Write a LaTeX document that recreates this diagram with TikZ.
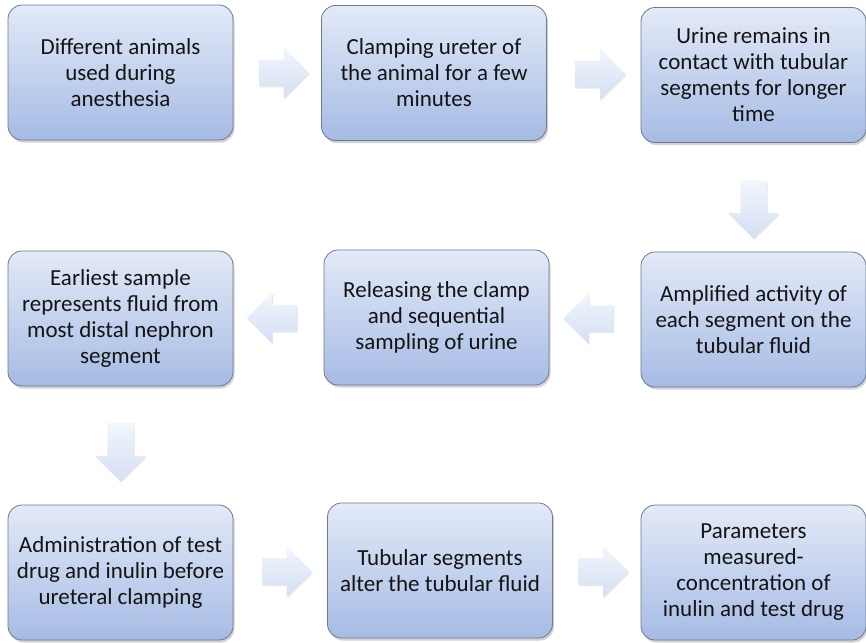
\documentclass[tikz,border=0pt]{standalone}
\usepackage{fontspec}
\setmainfont{Carlito}
\usepackage{xcolor}
\usepackage{tikz}
\usetikzlibrary{shapes.arrows,shadows,calc}
\definecolor{boxtop}{RGB}{227,234,248}
\definecolor{boxbottom}{RGB}{166,187,228}
\definecolor{boxline}{RGB}{110,121,140}
\definecolor{arrowtop}{RGB}{242,246,253}
\definecolor{arrowbottom}{RGB}{212,223,243}
\definecolor{textgray}{RGB}{20,20,20}

\begin{document}
\begin{tikzpicture}[x=1pt,y=-1pt,
    stepbox/.style={draw=boxline, line width=0.8pt, rounded corners=14pt,
        top color=boxtop, bottom color=boxbottom,
        minimum width=225pt, minimum height=135pt, inner sep=0pt,
        align=center, text=textgray, font=\fontsize{23}{26}\selectfont,
        drop shadow={shadow xshift=1.5pt, shadow yshift=-2.5pt, opacity=0.35}},
    blockarrow/.style={single arrow, single arrow head extend=12pt,
        minimum height=50pt, minimum width=50pt, inner sep=13pt,
        top color=arrowtop, bottom color=arrowbottom, draw=none,
        drop shadow={shadow xshift=1pt, shadow yshift=-1.5pt, opacity=0.2}},
    downarrow/.style={blockarrow, shape border rotate=270, minimum height=58pt}]
        \useasboundingbox (0,0) rectangle (866,642);

        % first row
        \node[stepbox] (animals) at (120.5,72.5) {Different animals\\used during\\anesthesia};
        \node[stepbox] (clamp) at (434,73) {Clamping ureter of\\the animal for a few\\minutes};
        \node[stepbox] (contact) at (753.5,75) {Urine remains in\\contact with tubular\\segments for longer\\time};

        % second row, read right to left
        \node[stepbox] (amplify) at (753.5,319.5) {Amplified activity of\\each segment on the\\tubular fluid};
        \node[stepbox] (release) at (436.5,317.5) {Releasing the clamp\\and sequential\\sampling of urine};
        \node[stepbox] (earliest) at (120.5,318.5) {Earliest sample\\represents fluid from\\most distal nephron\\segment};

        % third row
        \node[stepbox] (admin) at (120.5,572.5) {Administration of test\\drug and inulin before\\ureteral clamping};
        \node[stepbox] (alter) at (440,570.5) {Tubular segments\\alter the tubular fluid};
        \node[stepbox] (measure) at (753.5,572.5) {Parameters\\measured-\\concentration of\\inulin and test drug};

        % block arrows between the steps
        \node[blockarrow] (a1) at ($(animals.east)!0.5!(clamp.west)$) {};
        \node[blockarrow] (a2) at ($(clamp.east)!0.5!(contact.west)$) {};
        \node[downarrow] (a3) at ($(contact.south)!0.55!(amplify.north)$) {};
        \node[blockarrow, shape border rotate=180] (a4) at ($(amplify.west)!0.5!(release.east)$) {};
        \node[blockarrow, shape border rotate=180] (a5) at ($(release.west)!0.5!(earliest.east)$) {};
        \node[downarrow] (a6) at ($(earliest.south)!0.5!(admin.north)$) {};
        \node[blockarrow] (a7) at ($(admin.east)!0.5!(alter.west)$) {};
        \node[blockarrow] (a8) at ($(alter.east)!0.5!(measure.west)$) {};
    \end{tikzpicture}
\end{document}
